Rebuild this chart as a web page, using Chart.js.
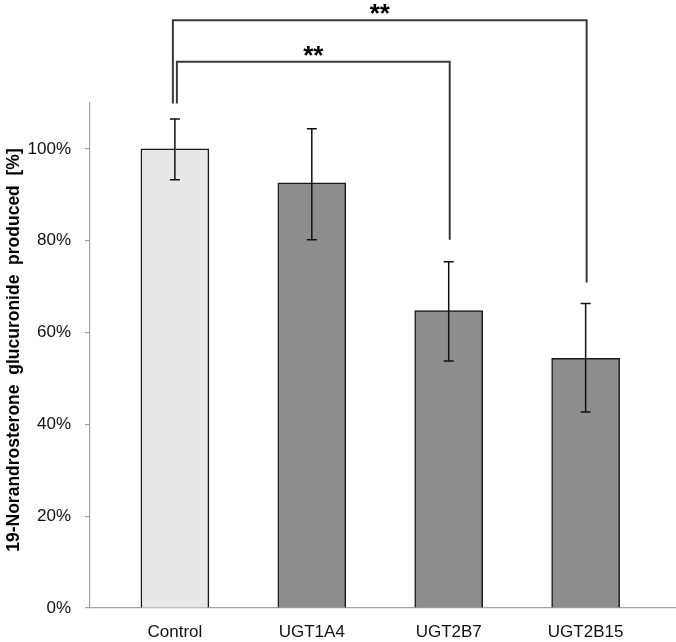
<!DOCTYPE html>
<html lang="en">
<head>
  <meta charset="UTF-8">
  <title>19-Norandrosterone glucuronide</title>
  <script src="https://cdn.jsdelivr.net/npm/chart.js"></script>
  <style>
    body { margin: 0; background: #fff; }
  </style>
</head>
<body>
  <canvas id="grafico" width="676" height="642"></canvas>

  <script>
    // Categorias e valores (%)
    const categorias = ["Control", "UGT1A4", "UGT2B7", "UGT2B15"];
    const valores = [100, 92.6, 64.8, 54.4];
    const erroMin = [93.3, 80.2, 53.8, 42.7];
    const erroMax = [106.5, 104.4, 75.4, 66.3];
    const ticksY = [0, 20, 40, 60, 80, 100];
    const coresBarras = ["#e8e8e8", "#8d8d8d", "#8d8d8d", "#8d8d8d"];

    // Colchetes de significância: de / até (índices), altura do topo, fim de cada perna
    const colchetes = [
      { de: 0, ate: 3, topo: 128, pernaDe: 109.9, pernaAte: 70.9, texto: "**", dx: -2 },
      { de: 0, ate: 2, topo: 119, pernaDe: 109.9, pernaAte: 80.2, texto: "**", dx: 2 }
    ];

    const tituloY = "19-Norandrosterone  glucuronide  produced  [%]";
    const fonte = "'Liberation Sans', Arial, sans-serif";

    // barras de erro + colchetes + título do eixo
    const extras = {
      id: 'extras',
      afterDatasetsDraw(chart) {
        const ctx = chart.ctx;
        const x = chart.scales.x, y = chart.scales.y;
        ctx.save();

        // barras de erro
        ctx.strokeStyle = '#111';
        ctx.lineWidth = 1.5;
        categorias.forEach((c, i) => {
          const px = x.getPixelForValue(i);
          const y1 = y.getPixelForValue(erroMin[i]);
          const y2 = y.getPixelForValue(erroMax[i]);
          ctx.beginPath();
          ctx.moveTo(px, y1); ctx.lineTo(px, y2);
          ctx.moveTo(px - 5, y1); ctx.lineTo(px + 5, y1);
          ctx.moveTo(px - 5, y2); ctx.lineTo(px + 5, y2);
          ctx.stroke();
        });

        // colchetes
        ctx.strokeStyle = '#3a3a3a';
        ctx.lineWidth = 2;
        ctx.fillStyle = '#000';
        ctx.font = "bold 26px " + fonte;
        ctx.textAlign = 'center';
        ctx.textBaseline = 'alphabetic';
        colchetes.forEach(b => {
          const xa = x.getPixelForValue(b.de) + b.dx;
          const xb = x.getPixelForValue(b.ate) + 1;
          const yt = y.getPixelForValue(b.topo);
          ctx.beginPath();
          ctx.moveTo(xa, y.getPixelForValue(b.pernaDe));
          ctx.lineTo(xa, yt);
          ctx.lineTo(xb, yt);
          ctx.lineTo(xb, y.getPixelForValue(b.pernaAte));
          ctx.stroke();
          ctx.fillText(b.texto, (xa + xb) / 2, yt + 2);
        });

        // título do eixo Y
        ctx.translate(14, 350);
        ctx.rotate(-Math.PI / 2);
        ctx.font = "bold 17.5px " + fonte;
        ctx.textAlign = 'center';
        ctx.textBaseline = 'middle';
        ctx.fillText(tituloY, 0, 0);
        ctx.restore();
      }
    };

    const config = {
      type: 'bar',
      data: {
        datasets: [{
          data: categorias.map((c, i) => ({ x: i, y: valores[i] })),
          backgroundColor: coresBarras,
          borderColor: '#1a1a1a',
          borderWidth: 1.5,
          barThickness: 68
        }]
      },
      options: {
        responsive: false,
        animation: false,
        layout: { padding: { top: 103, right: 0, left: 0, bottom: 0 } },
        plugins: {
          legend: { display: false },
          tooltip: { enabled: false }
        },
        scales: {
          x: {
            type: 'linear',
            min: -0.62,
            max: 3.66,
            offset: false,
            afterBuildTicks: s => { s.ticks = categorias.map((c, i) => ({ value: i })); },
            afterFit: s => { s.height = 34; },
            grid: { display: false, drawTicks: false },
            border: { color: '#a3a3a3', width: 1.2 },
            ticks: {
              callback: v => categorias[v],
              padding: 14,
              maxRotation: 0,
              color: '#111',
              font: { family: fonte, size: 17 }
            }
          },
          y: {
            min: 0,
            max: 110,
            afterBuildTicks: s => { s.ticks = ticksY.map(v => ({ value: v })); },
            afterFit: s => { s.width = 90; },
            grid: { drawOnChartArea: false, tickLength: 5, color: '#a3a3a3', lineWidth: 1.2 },
            border: { color: '#a3a3a3', width: 1.2 },
            ticks: {
              callback: v => v + '%',
              padding: 14,
              color: '#111',
              font: { family: fonte, size: 17 }
            }
          }
        }
      },
      plugins: [extras]
    };

    new Chart(document.getElementById('grafico').getContext('2d'), config);
  </script>
</body>
</html>
